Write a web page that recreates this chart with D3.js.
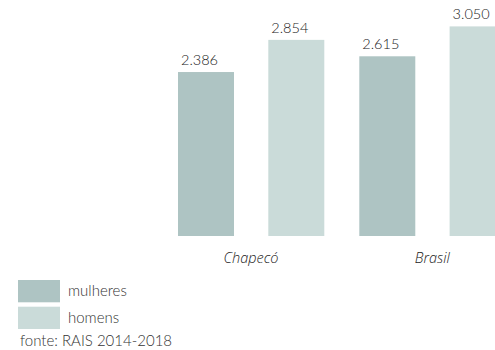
<!DOCTYPE html>
<html><head><meta charset="utf-8">
<script src="https://cdn.jsdelivr.net/npm/d3@7"></script>
<style>
body{margin:0;background:#fff;}
svg{display:block;font-family:Lato, "Open Sans", sans-serif;}
</style></head>
<body>
<svg id="c" width="495" height="350"></svg>
<script>
const categories = ["Chapecó", "Brasil"];
const seriesNames = ["mulheres", "homens"];
const mulheres = [2386, 2615];
const homens = [2854, 3050];
const valueLabels = [["2.386", "2.854"], ["2.615", "3.050"]];
const sourceText = "fonte: RAIS 2014-2018";
const colors = ["#aec4c3", "#cadbd9"];

const svg = d3.select("#c");
const baseY = 236;
const y = d3.scaleLinear().domain([0, 3050]).range([baseY, baseY - 209.6]);
const x0 = d3.scaleBand().domain(categories).range([178, 178 + 362.6]).paddingInner(0).paddingOuter(0);
const x1 = d3.scaleBand().domain(seriesNames).range([0, 146.3]).paddingInner(0.38).paddingOuter(0);

const data = categories.map((c, i) => ({cat: c, vals: [mulheres[i], homens[i]], labels: valueLabels[i]}));

const g = svg.append("g");
const groups = g.selectAll("g.grp").data(data).enter().append("g")
  .attr("transform", d => `translate(${x0(d.cat)},0)`);

groups.selectAll("rect").data(d => d.vals.map((v, j) => ({v, j, s: seriesNames[j]})))
  .enter().append("rect")
  .attr("x", d => x1(d.s))
  .attr("y", d => y(d.v))
  .attr("width", x1.bandwidth())
  .attr("height", d => baseY - y(d.v))
  .attr("fill", d => colors[d.j]);

groups.selectAll("text.val").data(d => d.vals.map((v, j) => ({v, j, s: seriesNames[j], l: d.labels[j]})))
  .enter().append("text")
  .attr("class", "val")
  .attr("x", d => x1(d.s) + 3)
  .attr("y", d => y(d.v) - 7)
  .attr("font-size", 14.5)
  .attr("font-weight", 300)
  .attr("fill", "#222")
  .text(d => d.l);

// category axis labels
const axisG = svg.append("g").attr("transform", `translate(0,${baseY})`);
const ax = d3.axisBottom(x0).tickSize(0).tickPadding(17);
axisG.call(ax);
axisG.select(".domain").remove();
axisG.selectAll(".tick").attr("transform", d => `translate(${x0(d) + 73},0)`);
axisG.selectAll("text")
  .attr("font-family", "'Open Sans', 'Noto Sans', sans-serif")
  .attr("font-size", 14.5)
  .attr("font-style", "italic")
  .attr("font-weight", 300)
  .attr("fill", "#222");

// legend
const leg = svg.append("g");
seriesNames.forEach((s, i) => {
  leg.append("rect").attr("x", 18).attr("y", 280 + i * 26.7).attr("width", 42).attr("height", 22.3).attr("fill", colors[i]);
  leg.append("text").attr("x", 68).attr("y", 296 + i * 26.5).attr("font-size", 15).attr("font-weight", 300).attr("fill", "#333").text(s);
});
leg.append("text").attr("x", 20).attr("y", 346).attr("font-size", 15).attr("font-weight", 300).attr("fill", "#333").text(sourceText);
</script>
</body></html>
